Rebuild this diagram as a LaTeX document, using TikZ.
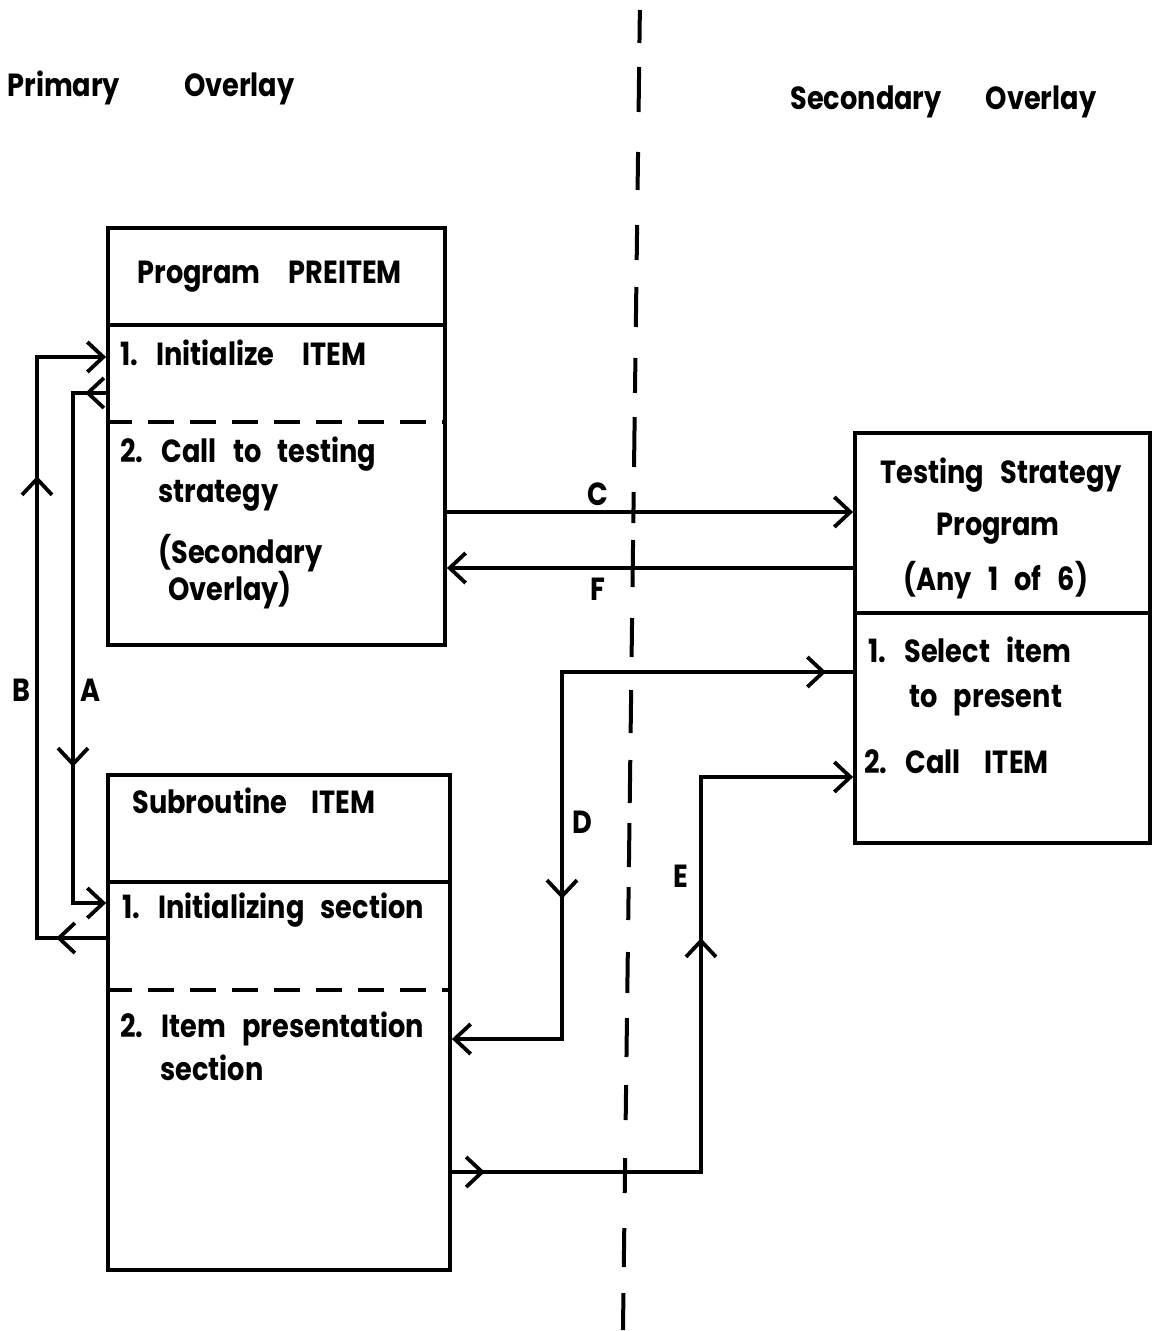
\documentclass[tikz,border=0pt]{standalone}
\usepackage{fontspec}
\setmainfont{Poppins}[WordSpace=2.8,FakeStretch=0.85]
\usetikzlibrary{arrows.meta,decorations.markings}
\tikzset{box/.style={draw,line width=1.9pt,inner sep=0pt},
  rule/.style={line width=1.9pt},
  halfrule/.style={line width=1.6pt,dash pattern=on 13pt off 8pt},
  divider/.style={line width=2pt},
  txt/.style={anchor=base west,inner sep=0pt,font=\bfseries\fontsize{16}{19}\selectfont},
  flow/.style={line width=1.9pt,-{Straight Barb[length=8pt,width=15pt]}},
  arrowat/.style={postaction={decorate,decoration={markings,
    mark=at position #1 with {\arrow{Straight Barb[length=8pt,width=15pt]}}}}},
  arrowback/.style={postaction={decorate,decoration={markings,
    mark=at position #1 with {\arrowreversed{Straight Barb[length=8pt,width=15pt]}}}}}}

\begin{document}
\begin{tikzpicture}[x=0.5pt,y=-0.5pt]
\useasboundingbox (0,0) rectangle (1152,1331);

% overlay divider
\foreach \ya/\yb in {10/43,67/112,152/190,225/260,287/327,358/393,417/467,492/523,
  540/587,618/657,690/733,760/803,823/867,887/920,952/993,1018/1057,1085/1120,
  1158/1193,1228/1267,1293/1330}
  \draw[divider] ({640-0.0128*\ya},\ya) -- ({640-0.0128*\yb},\yb);

\node[txt] (prim) at (7,97) {Primary\hspace{32pt}Overlay};
\node[txt] (secd) at (790,110) {Secondary\hspace{22pt}Overlay};

% boxes
\node[box,minimum width=168.5pt,minimum height=208.5pt] (pre) at (276.5,436.5) {};
\node[box,minimum width=171pt,minimum height=247.5pt] (sub) at (279,1022.5) {};
\node[box,minimum width=147.5pt,minimum height=205pt] (test) at (1002.5,638) {};
\draw[rule] (pre.west |- 0,325) -- (pre.east |- 0,325);
\draw[halfrule] (pre.west |- 0,422) -- (pre.east |- 0,422);
\draw[rule] (sub.west |- 0,882) -- (sub.east |- 0,882);
\draw[halfrule] (sub.west |- 0,990) -- (sub.east |- 0,990);
\draw[rule] (test.west |- 0,613) -- (test.east |- 0,613);

% PREITEM
\node[txt] (preh) at (137,284) {Program\hspace{14pt}PREITEM};
\node[txt] (pre1) at (120,366) {1. Initialize\hspace{14pt}ITEM};
\node[txt] (pre2) at (120,462) {2. Call to testing};
\node[txt] (pre3) at (158,502) {strategy};
\node[txt] (pre4) at (158,563) {(Secondary};
\node[txt] (pre5) at (168,600) {Overlay)};

% ITEM
\node[txt] (subh) at (132,813) {Subroutine\hspace{12pt}ITEM};
\node[txt] (sub1) at (122,918) {1. Initializing section};
\node[txt] (sub2) at (120,1037) {2. Item presentation};
\node[txt] (sub3) at (160,1080) {section};

% testing strategy
\node[txt] (testh) at (880,483) {Testing Strategy};
\node[txt] (testp) at (936,535) {Program};
\node[txt] (testa) at (903,590) {(Any 1 of 6)};
\node[txt] (test1) at (868,662) {1. Select item};
\node[txt] (test2) at (909,707) {to present};
\node[txt] (test3) at (864,773) {2. Call\hspace{12pt}ITEM};

% connectors
\draw[flow,arrowat=25pt,arrowat=265.5pt] (sub.west |- 0,938) -- (37,938) -- (37,357) -- (pre.west |- 0,357);
\draw[flow,arrowat=10.5pt,arrowat=203.5pt] (pre.west |- 0,393) -- (73,393) -- (73,903) -- (sub.west |- 0,903);
\draw[flow] (pre.east |- 0,512) -- (test.west |- 0,512);
\draw[flow] (test.west |- 0,568) -- (pre.east |- 0,568);
\draw[flow,arrowback=13.5pt,arrowat=259pt] (test.west |- 0,672) -- (562,672) -- (562,1039) -- (sub.east |- 0,1039);
\draw[flow,arrowat=16.5pt,arrowat=241.5pt] (sub.east |- 0,1172) -- (701,1172) -- (701,777) -- (test.west |- 0,777);

\node[txt] (lb) at (12,701) {B};
\node[txt] (la) at (80,701) {A};
\node[txt] (lc) at (587,505) {C};
\node[txt] (lf) at (590,600) {F};
\node[txt] (ld) at (572,833) {D};
\node[txt] (le) at (673,887) {E};
\end{tikzpicture}
\end{document}
